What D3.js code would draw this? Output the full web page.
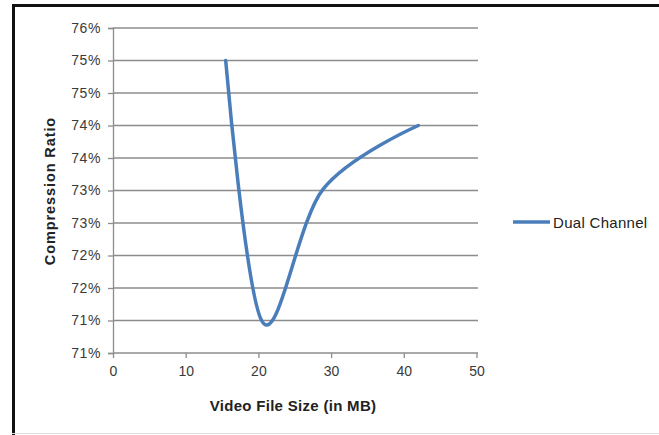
<!DOCTYPE html>
<html><head><meta charset="utf-8">
<script src="https://cdn.jsdelivr.net/npm/d3@7"></script>
<style>
body{margin:0;background:#fff;}
svg{display:block;font-family:"Liberation Sans",Arial,sans-serif;}
</style></head>
<body>
<svg id="c" width="659" height="435"></svg>
<script>
// Data
const fileSizes = [15.5, 20.6, 28.9, 42.0];
const dualChannel = [75.0, 70.97, 73.02, 74.0];
const yTickValues = [70.5, 71, 71.5, 72, 72.5, 73, 73.5, 74, 74.5, 75, 75.5];
const yTickLabels = ["71%", "71%", "72%", "72%", "73%", "73%", "74%", "74%", "75%", "75%", "76%"];
const xTickValues = [0, 10, 20, 30, 40, 50];
const seriesName = "Dual Channel";

const svg = d3.select("#c");
// frame
svg.append("rect").attr("x",0).attr("y",0).attr("width",659).attr("height",435).attr("fill","#fff");
svg.append("line").attr("x1",12).attr("x2",659).attr("y1",5.5).attr("y2",5.5).attr("stroke","#111").attr("stroke-width",3);
svg.append("line").attr("x1",13.5).attr("x2",13.5).attr("y1",4).attr("y2",435).attr("stroke","#111").attr("stroke-width",3);
svg.append("line").attr("x1",12).attr("x2",659).attr("y1",433.5).attr("y2",433.5).attr("stroke","#ddd").attr("stroke-width",1);

const x = d3.scaleLinear().domain([0,50]).range([113,476.5]);
const y = d3.scaleLinear().domain([70.5,75.5]).range([353,28]);

// gridlines
svg.append("g").selectAll("line").data(yTickValues.slice(1)).join("line")
  .attr("x1",113).attr("x2",478).attr("y1",d=>y(d)).attr("y2",d=>y(d))
  .attr("stroke","#8c8c8c").attr("stroke-width",1.3);

// y axis
const yAxis = d3.axisLeft(y).tickValues(yTickValues).tickSize(5).tickPadding(7)
  .tickFormat((d,i)=>yTickLabels[i]);
const gy = svg.append("g").attr("transform","translate(113,0)").call(yAxis);
gy.select(".domain").attr("stroke","#8c8c8c").attr("stroke-width",1.3);
gy.selectAll(".tick line").attr("stroke","#8c8c8c").attr("stroke-width",1.3);
gy.selectAll("text").attr("font-size",14).attr("fill","#3a3a3a").attr("letter-spacing",0.6);

// x axis
const xAxis = d3.axisBottom(x).tickValues(xTickValues).tickSize(5).tickPadding(8);
const gx = svg.append("g").attr("transform","translate(0,353)").call(xAxis);
gx.select(".domain").attr("stroke","#8c8c8c").attr("stroke-width",1.3).attr("d","M113,0H478");
gx.selectAll(".tick line").attr("stroke","#8c8c8c").attr("stroke-width",1.3);
gx.selectAll("text").attr("font-size",14).attr("fill","#3a3a3a");

// line
const pts = fileSizes.map((v,i)=>[v,dualChannel[i]]);
svg.append("path").datum(pts)
  .attr("d", d3.line().x(d=>x(d[0])).y(d=>y(d[1])).curve(d3.curveCardinal.tension(0)))
  .attr("fill","none").attr("stroke","#4a7ebb").attr("stroke-width",3.5).attr("stroke-linecap","round");

// axis titles
svg.append("text").attr("x",293).attr("y",411).attr("text-anchor","middle")
  .attr("font-size",15).attr("font-weight","bold").attr("fill","#222").attr("letter-spacing",0.3)
  .text("Video File Size (in MB)");
svg.append("text").attr("transform","translate(55,191) rotate(-90)").attr("text-anchor","middle")
  .attr("font-size",14.5).attr("font-weight","bold").attr("fill","#222").attr("letter-spacing",0.9)
  .text("Compression Ratio");

// legend
svg.append("line").attr("x1",513).attr("x2",550).attr("y1",222).attr("y2",222)
  .attr("stroke","#4a7ebb").attr("stroke-width",3.5);
svg.append("text").attr("x",553).attr("y",227.5).attr("font-size",15).attr("fill","#222").attr("letter-spacing",0.3)
  .text(seriesName);
</script>
</body></html>
